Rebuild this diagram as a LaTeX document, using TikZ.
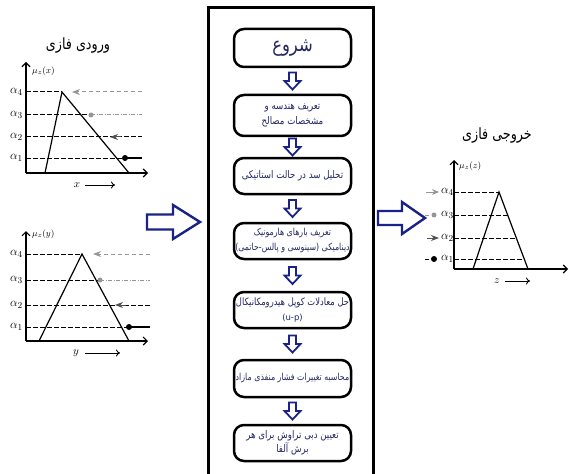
\documentclass[tikz,border=0pt]{standalone}
\usepackage{fontspec}
\newfontfamily\arabicfont[Script=Arabic, FakeStretch=0.82]{DejaVu Sans}
\TeXXeTstate=1
\usetikzlibrary{arrows.meta,calc}
\definecolor{navy}{RGB}{25,35,135}
\definecolor{boxtext}{RGB}{35,40,100}
\definecolor{lgray}{RGB}{150,150,150}
\definecolor{dgray}{RGB}{80,80,80}
\newcommand{\fa}[1]{{\arabicfont\beginR #1\endR}}
\begin{document}
\begin{tikzpicture}[x=1pt,y=-1pt,
  stepbox/.style={draw, line width=2.5pt, rounded corners=10pt, minimum width=117pt,
    align=center, text=boxtext, inner xsep=0pt, inner ysep=2pt,
    font=\arabicfont\fontsize{10.5}{14.5}\selectfont},
  axisline/.style={line width=1.1pt, -{Straight Barb[length=4pt,width=8pt]}},
  tri/.style={line width=1.2pt},
  lvl/.style={dash pattern=on 4.5pt off 2.5pt, line width=1pt},
  grayarr/.style={lgray, dash pattern=on 4.5pt off 2.5pt, line width=1pt, -{Stealth[length=8pt,width=6pt]}},
  dashdot/.style={lgray, dash pattern=on 4pt off 1.5pt on 1pt off 1.5pt, line width=1pt},
  darkhead/.style={dgray, line width=1pt, -{Stealth[length=8pt,width=6pt]}},
  alab/.style={inner sep=1pt, font=\fontsize{12.5}{14}\selectfont},
  mulab/.style={inner sep=0pt, font=\fontsize{9.5}{11}\selectfont},
  vlab/.style={inner sep=0pt, font=\fontsize{11}{12}\selectfont},
  ftitle/.style={inner sep=0pt, font=\arabicfont\fontsize{15.5}{17}\selectfont},
  bigarrow/.style={draw=navy, fill=white, line width=2.4pt, line join=miter},
  downarr/.pic={\draw[navy, fill=white, line width=1.8pt, line join=miter]
     (-3.5,-8.5) -- (3.5,-8.5) -- (3.5,0) -- (8,0) -- (0,8.5) -- (-8,0) -- (-3.5,0) -- cycle;}
]
\useasboundingbox (0,0) rectangle (569,473);
\fill[white] (0,0) rectangle (569,473);

% central frame
\draw[line width=3pt] (208,490) -- (208,8) -- (373,8) -- (373,490);

% flowchart boxes
\node[stepbox, minimum height=38pt] (b1) at (292.5,48) {\fontsize{20}{22}\selectfont\fa{شروع}};
\node[stepbox, minimum height=41pt] (b2) at (292.5,115.5) {\fa{تعریف هندسه و}\\\fa{مشخصات مصالح}};
\node[stepbox, minimum height=36pt] (b3) at (292.5,176) {\fa{تحلیل سد در حالت استاتیکی}};
\node[stepbox, minimum height=36pt, font=\arabicfont\fontsize{9.6}{15}\selectfont] (b4) at (292.5,241) {\fa{تعریف بارهای هارمونیک}\\\fa{دینامیکی (سینوسی و پالس-حاتمی)}};
\node[stepbox, minimum height=36pt, font=\arabicfont\fontsize{10.2}{14.5}\selectfont] (b5) at (292.5,310) {\fa{حل معادلات کوپل هیدرومکانیکال}\\{\fontspec{DejaVu Sans}\fontsize{8.5}{12}\selectfont(u-p)}};
\node[stepbox, minimum height=37pt, font=\arabicfont\fontsize{9.6}{14}\selectfont] (b6) at (292.5,378.5) {\fa{محاسبه تغییرات فشار منفذی مازاد}};
\node[stepbox, minimum height=36pt] (b7) at (292.5,443) {\fa{تعیین دبی تراوش برای هر}\\\fa{برش آلفا}};

\pic at ($(b1.south)!0.5!(b2.north)$) {downarr};
\pic at ($(b2.south)!0.5!(b3.north)$) {downarr};
\pic at ($(b3.south)!0.5!(b4.north)$) {downarr};
\pic at ($(b4.south)!0.5!(b5.north)$) {downarr};
\pic at ($(b5.south)!0.5!(b6.north)$) {downarr};
\pic at ($(b6.south)!0.5!(b7.north)$) {downarr};

% big arrows
\draw[bigarrow] (147,214.5) -- (173,214.5) -- (173,205) -- (200,222) -- (173,239) -- (173,229.5) -- (147,229.5) -- cycle;
\draw[bigarrow] (378,211) -- (402,211) -- (402,202) -- (425,218) -- (402,234) -- (402,225) -- (378,225) -- cycle;

% ---------- graph 1 (x) ----------
\node[ftitle] (t1) at (78,46) {\fa{ورودی فازی}};
\draw[axisline] (26,173) -- (26,62);
\draw[axisline] (26,173) -- (148,173);
\node[mulab, anchor=west] (m1) at (32,71) {$\mu_z(x)$};
\draw[tri] (45,173) -- (62,92) -- (129,173);
\draw[lvl] (26,92) -- (62,92);
\draw[lvl] (26,115) -- (91,115);
\draw[lvl] (26,137) -- (142,137);
\draw[lvl] (26,158) -- (125,158);
\draw[grayarr] (142,92) -- (72,92);
\draw[dashdot] (91,115) -- (142,115);
\fill[lgray] (91,115) circle (2.5pt);
\draw[darkhead] (121,137) -- (110,137);
\draw[line width=1.2pt] (125,158) -- (142,158);
\fill (125,158) circle (3pt);
\node[alab, anchor=east] (a14) at (24,92) {$\alpha_4$};
\node[alab, anchor=east] (a13) at (24,115) {$\alpha_3$};
\node[alab, anchor=east] (a12) at (24,137) {$\alpha_2$};
\node[alab, anchor=east] (a11) at (24,158) {$\alpha_1$};
\node[vlab] (x1) at (77,185) {$x$};
\draw[-{To[length=4pt,width=7pt]}, line width=0.9pt] (85,185) -- (115,185);

% ---------- graph 2 (y) ----------
\draw[axisline] (26,341) -- (26,231);
\draw[axisline] (26,341) -- (148,341);
\node[mulab, anchor=west] (m2) at (32,234) {$\mu_z(y)$};
\draw[tri] (39,341) -- (82,254) -- (129,341);
\draw[lvl] (26,254) -- (82,254);
\draw[lvl] (26,280) -- (100,280);
\draw[lvl] (26,305) -- (150,305);
\draw[lvl] (26,327) -- (129,327);
\draw[grayarr] (150,254) -- (93,254);
\draw[dashdot] (100,280) -- (150,280);
\fill[lgray] (100,280) circle (2.5pt);
\draw[darkhead] (126,305) -- (115,305);
\draw[line width=1.2pt] (129,327) -- (150,327);
\fill (129,327) circle (3pt);
\node[alab, anchor=east] (a24) at (24,254) {$\alpha_4$};
\node[alab, anchor=east] (a23) at (24,280) {$\alpha_3$};
\node[alab, anchor=east] (a22) at (24,305) {$\alpha_2$};
\node[alab, anchor=east] (a21) at (24,327) {$\alpha_1$};
\node[vlab] (y1) at (76,353) {$y$};
\draw[-{To[length=4pt,width=7pt]}, line width=0.9pt] (85,353) -- (120,353);

% ---------- graph 3 (z) ----------
\node[ftitle] (t3) at (497,136) {\fa{خروجی فازی}};
\draw[axisline] (454,269) -- (454,160);
\draw[axisline] (454,269) -- (568,269);
\node[mulab, anchor=west] (m3) at (459,166) {$\mu_z(z)$};
\draw[tri] (473,269) -- (499,192) -- (528,269);
\draw[lvl] (454,192) -- (499,192);
\draw[lvl] (454,215) -- (508,215);
\draw[lvl] (454,238) -- (516,238);
\draw[lvl] (454,259) -- (524,259);
\node[alab, anchor=east] (a34) at (455,192) {$\alpha_4$};
\node[alab, anchor=east] (a33) at (455,215) {$\alpha_3$};
\node[alab, anchor=east] (a32) at (455,238) {$\alpha_2$};
\node[alab, anchor=east] (a31) at (455,259) {$\alpha_1$};
\draw[lgray, line width=1pt, -{Stealth[length=7pt,width=6pt]}] (426,192) -- (439,192);
\draw[lgray, line width=1pt] (425,215) -- (429,215);
\fill[lgray] (434,215) circle (2.5pt);
\draw[darkhead] (427,238) -- (439,238);
\draw[line width=1pt] (425,259) -- (429,259);
\fill (434,259) circle (3pt);
\node[vlab] (z1) at (497,281) {$z$};
\draw[-{To[length=4pt,width=7pt]}, line width=0.9pt] (505,281) -- (530,281);
\end{tikzpicture}
\end{document}
